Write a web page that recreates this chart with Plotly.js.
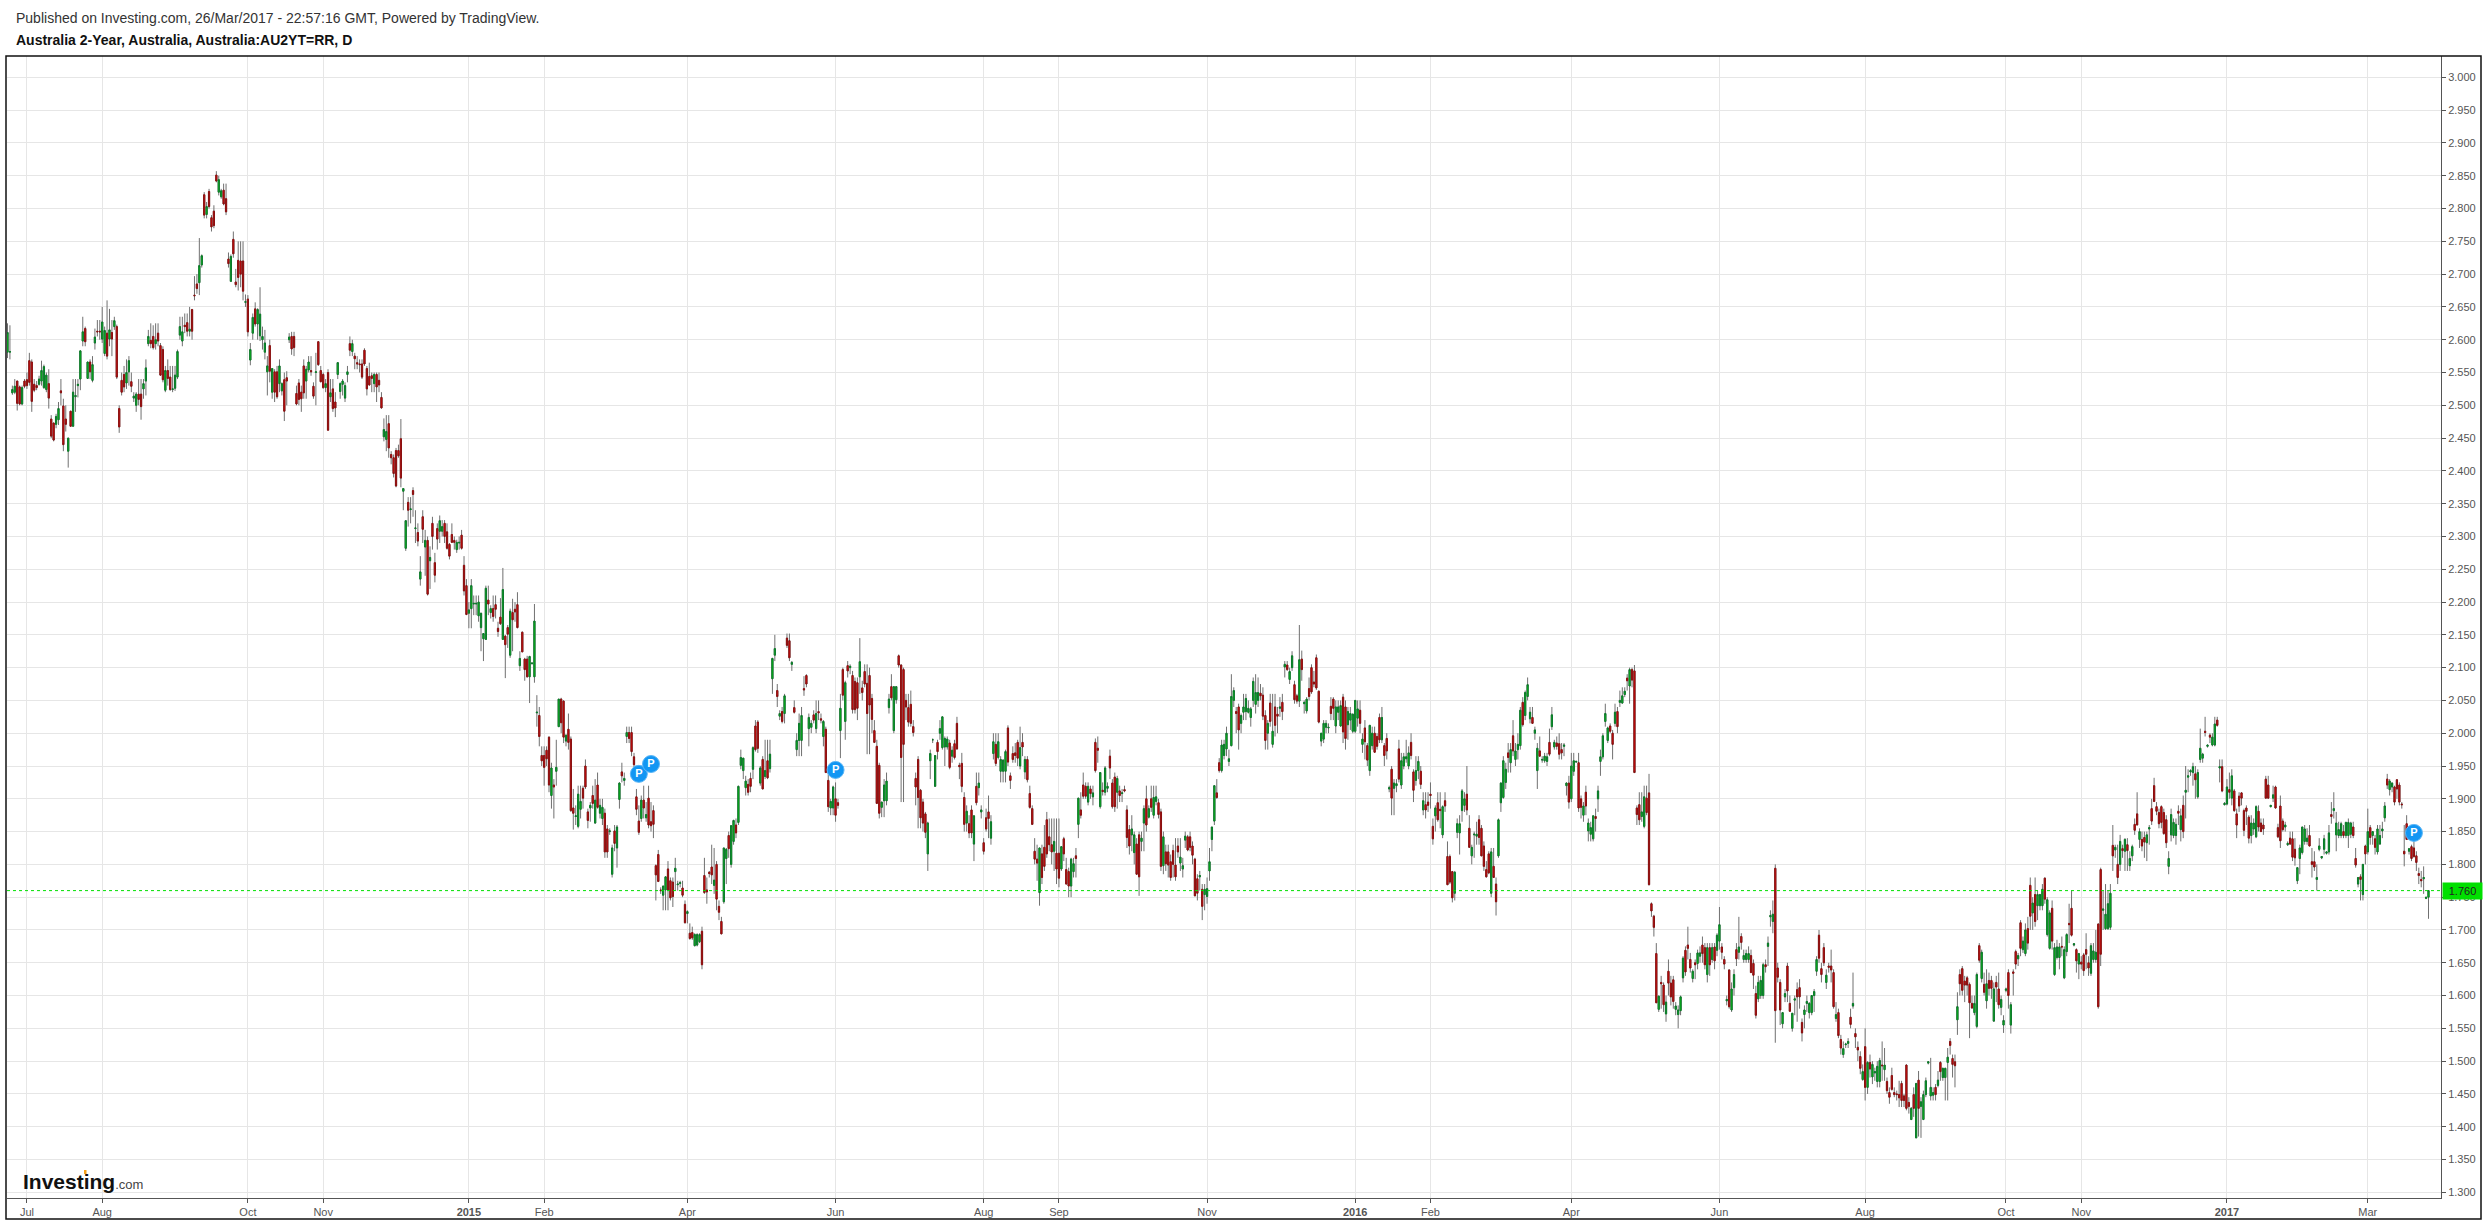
<!DOCTYPE html>
<html><head><meta charset="utf-8">
<script src="https://cdn.plot.ly/plotly-3.0.1.min.js"></script>
<style>html,body{margin:0;padding:0;background:#fff}</style></head><body><div id="c" style="width:2487px;height:1222px"></div>
<script>
// each row: [open, high, low, close]
const lead14=[[2.581,2.625,2.572,2.611],[2.581,2.622,2.57,2.582],[2.519,2.53,2.516,2.524],[2.52,2.54,2.517,2.529],[2.537,2.537,2.492,2.503],[2.528,2.53,2.5,2.502],[2.502,2.53,2.5,2.527],[2.537,2.54,2.526,2.529]];
const jul14=[[2.539,2.55,2.525,2.53],[2.568,2.58,2.53,2.535],[2.566,2.57,2.49,2.506],[2.532,2.54,2.52,2.523],[2.53,2.537,2.523,2.527],[2.532,2.545,2.53,2.54],[2.537,2.568,2.53,2.553],[2.527,2.562,2.525,2.559],[2.524,2.55,2.52,2.546],[2.533,2.555,2.495,2.511],[2.479,2.485,2.45,2.453],[2.473,2.473,2.445,2.447],[2.471,2.487,2.465,2.483],[2.478,2.505,2.47,2.495],[2.522,2.54,2.5,2.519],[2.499,2.51,2.43,2.44],[2.479,2.5,2.46,2.471],[2.43,2.45,2.405,2.45],[2.491,2.491,2.468,2.468],[2.468,2.54,2.468,2.52],[2.513,2.54,2.49,2.515],[2.53,2.54,2.512,2.532],[2.54,2.583,2.523,2.583],[2.598,2.635,2.59,2.612],[2.617,2.62,2.59,2.597],[2.541,2.566,2.541,2.566],[2.566,2.57,2.54,2.551],[2.538,2.575,2.535,2.562],[2.595,2.617,2.585,2.604],[2.613,2.63,2.605,2.612],[2.613,2.63,2.6,2.612]];
const augSep14=[[2.601,2.65,2.595,2.627],[2.579,2.62,2.575,2.614],[2.61,2.66,2.57,2.575],[2.601,2.647,2.59,2.615],[2.611,2.63,2.575,2.601],[2.62,2.635,2.615,2.629],[2.62,2.623,2.54,2.543],[2.495,2.5,2.458,2.467],[2.538,2.55,2.515,2.52],[2.547,2.56,2.52,2.528],[2.534,2.57,2.525,2.55],[2.551,2.575,2.53,2.568],[2.536,2.55,2.52,2.529],[2.511,2.52,2.505,2.514],[2.5,2.52,2.49,2.517],[2.517,2.54,2.5,2.509],[2.517,2.54,2.478,2.498],[2.525,2.54,2.51,2.533],[2.537,2.57,2.515,2.557],[2.594,2.615,2.59,2.605],[2.599,2.625,2.587,2.594],[2.605,2.622,2.585,2.588],[2.594,2.625,2.585,2.6],[2.61,2.625,2.59,2.598],[2.591,2.595,2.545,2.546],[2.585,2.59,2.535,2.539],[2.523,2.56,2.52,2.553],[2.553,2.57,2.53,2.541],[2.543,2.56,2.522,2.524],[2.524,2.56,2.52,2.525],[2.526,2.56,2.522,2.546],
[2.543,2.585,2.54,2.582],[2.607,2.635,2.6,2.62],[2.598,2.635,2.59,2.612],[2.622,2.64,2.61,2.62],[2.626,2.64,2.605,2.613],[2.613,2.65,2.605,2.616],[2.646,2.647,2.6,2.613],[2.668,2.697,2.66,2.667],[2.685,2.7,2.67,2.678],[2.687,2.755,2.668,2.713],[2.714,2.73,2.71,2.728],[2.821,2.825,2.785,2.79],[2.791,2.81,2.785,2.803],[2.826,2.83,2.8,2.803],[2.786,2.79,2.765,2.772],[2.796,2.805,2.77,2.774],[2.851,2.857,2.84,2.842],[2.825,2.85,2.82,2.844],[2.818,2.83,2.815,2.827],[2.828,2.838,2.805,2.807],[2.815,2.838,2.79,2.795],[2.723,2.733,2.71,2.716],[2.689,2.73,2.69,2.727],[2.753,2.765,2.725,2.731],[2.688,2.708,2.68,2.684],[2.721,2.75,2.675,2.695],[2.72,2.75,2.68,2.7],[2.72,2.75,2.66,2.674],[2.657,2.669,2.65,2.658]];
const oct14=[[2.662,2.668,2.605,2.612],[2.569,2.595,2.561,2.585],[2.61,2.64,2.6,2.634],[2.647,2.657,2.62,2.624],[2.624,2.648,2.6,2.646],[2.606,2.68,2.598,2.639],[2.6,2.62,2.585,2.605],[2.581,2.615,2.57,2.595],[2.551,2.575,2.515,2.56],[2.591,2.6,2.535,2.552],[2.52,2.556,2.51,2.556],[2.551,2.555,2.505,2.52],[2.551,2.56,2.51,2.513],[2.533,2.57,2.52,2.56],[2.522,2.535,2.515,2.533],[2.539,2.55,2.476,2.491],[2.542,2.552,2.5,2.537],[2.6,2.61,2.595,2.604],[2.605,2.612,2.577,2.586],[2.605,2.612,2.575,2.588],[2.518,2.53,2.5,2.502],[2.534,2.54,2.5,2.509],[2.52,2.53,2.49,2.51],[2.56,2.57,2.51,2.519],[2.537,2.56,2.51,2.555],[2.554,2.575,2.55,2.566],[2.553,2.575,2.545,2.551],[2.529,2.535,2.51,2.514],[2.55,2.58,2.5,2.551],[2.597,2.597,2.56,2.562],[2.553,2.56,2.535,2.536]];
const novDec14=[[2.547,2.55,2.525,2.527],[2.527,2.54,2.52,2.533],[2.55,2.555,2.462,2.462],[2.513,2.54,2.505,2.519],[2.525,2.54,2.49,2.495],[2.505,2.52,2.482,2.496],[2.547,2.566,2.54,2.565],[2.521,2.535,2.51,2.533],[2.532,2.54,2.515,2.537],[2.511,2.535,2.505,2.53],[2.547,2.56,2.535,2.551],[2.594,2.605,2.575,2.584],[2.582,2.6,2.575,2.594],[2.575,2.58,2.555,2.571],[2.565,2.575,2.555,2.563],[2.563,2.57,2.55,2.562],[2.563,2.57,2.54,2.543],[2.584,2.587,2.56,2.563],[2.556,2.56,2.515,2.525],[2.544,2.565,2.53,2.531],[2.545,2.55,2.52,2.541],[2.533,2.55,2.52,2.547],[2.547,2.55,2.505,2.528],[2.538,2.55,2.52,2.531],[2.512,2.52,2.495,2.496],[2.452,2.48,2.445,2.463],[2.448,2.485,2.43,2.46],[2.472,2.485,2.42,2.435],[2.425,2.43,2.41,2.42],[2.42,2.425,2.39,2.396],
[2.431,2.435,2.375,2.377],[2.431,2.44,2.42,2.423],[2.449,2.479,2.375,2.389],[2.369,2.372,2.34,2.373],[2.282,2.325,2.278,2.324],[2.352,2.36,2.315,2.34],[2.341,2.36,2.32,2.342],[2.37,2.375,2.33,2.364],[2.312,2.34,2.29,2.313],[2.306,2.32,2.285,2.293],[2.235,2.27,2.225,2.246],[2.33,2.34,2.29,2.311],[2.284,2.31,2.24,2.294],[2.294,2.3,2.21,2.212],[2.263,2.285,2.22,2.268],[2.32,2.33,2.28,2.3],[2.26,2.275,2.23,2.241],[2.312,2.32,2.28,2.296],[2.308,2.332,2.29,2.324],[2.308,2.325,2.3,2.315],[2.32,2.325,2.29,2.3],[2.307,2.32,2.28,2.282],[2.288,2.29,2.265,2.27],[2.303,2.32,2.29,2.291],[2.294,2.3,2.28,2.291],[2.28,2.295,2.275,2.291],[2.29,2.3,2.28,2.291],[2.302,2.31,2.28,2.282],[2.256,2.27,2.21,2.217],[2.225,2.235,2.18,2.181]];
const jan15=[[2.183,2.2,2.16,2.188],[2.19,2.235,2.16,2.225],[2.197,2.21,2.18,2.198],[2.197,2.21,2.18,2.198],[2.179,2.21,2.17,2.2],[2.161,2.183,2.125,2.183],[2.144,2.15,2.11,2.152],[2.143,2.225,2.143,2.221],[2.203,2.225,2.18,2.197],[2.184,2.195,2.175,2.19],[2.19,2.21,2.17,2.178],[2.196,2.21,2.175,2.189],[2.16,2.17,2.147,2.155],[2.177,2.206,2.165,2.167],[2.143,2.252,2.143,2.219],[2.148,2.15,2.084,2.135],[2.161,2.165,2.13,2.151],[2.119,2.19,2.115,2.186],[2.184,2.205,2.125,2.173],[2.189,2.2,2.17,2.185],[2.196,2.215,2.16,2.161],[2.103,2.125,2.095,2.114],[2.154,2.155,2.124,2.124],[2.113,2.115,2.08,2.097],[2.113,2.118,2.085,2.086],[2.086,2.118,2.046,2.117],[2.106,2.107,2.105,2.107],[2.086,2.197,2.077,2.171],[2.031,2.058,2.01,2.032],[2.027,2.04,1.98,1.995],[1.966,1.98,1.95,1.958]];
const febMar15=[[1.966,1.98,1.92,1.948],[1.974,1.98,1.95,1.961],[1.994,1.995,1.91,1.921],[1.905,1.955,1.885,1.947],[1.921,1.93,1.87,1.918],[1.942,1.99,1.92,1.948],[2.01,2.052,2.01,2.052],[2.052,2.054,2,2.016],[2.049,2.05,1.985,1.994],[1.988,1.998,1.98,1.997],[2.006,2.03,1.975,1.986],[1.991,1.995,1.88,1.882],[1.886,1.915,1.853,1.878],[1.873,1.89,1.86,1.874],[1.858,1.92,1.855,1.907],[1.884,1.92,1.87,1.896],[1.916,1.92,1.885,1.901],[1.95,1.96,1.915,1.918],[1.88,1.885,1.855,1.867],[1.886,1.895,1.865,1.89],[1.905,1.92,1.885,1.893],[1.863,1.93,1.862,1.898],[1.921,1.94,1.885,1.887],[1.878,1.9,1.87,1.89],[1.87,1.9,1.86,1.887],[1.878,1.885,1.81,1.819],[1.854,1.86,1.81,1.819],[1.85,1.855,1.845,1.851],
[1.785,1.83,1.78,1.825],[1.851,1.86,1.82,1.832],[1.825,1.86,1.795,1.857],[1.899,1.925,1.885,1.924],[1.941,1.955,1.925,1.935],[1.928,1.94,1.92,1.931],[1.995,2.01,1.985,2.001],[2.001,2.01,1.985,1.992],[2.001,2.01,1.965,1.972],[1.964,1.97,1.945,1.952],[1.903,1.915,1.875,1.884],[1.866,1.89,1.845,1.849],[1.87,1.905,1.865,1.898],[1.898,1.92,1.87,1.886],[1.871,1.895,1.865,1.876],[1.901,1.92,1.855,1.86],[1.865,1.895,1.85,1.859],[1.882,1.89,1.84,1.861],[1.798,1.8,1.745,1.784],[1.815,1.822,1.773,1.774],[1.761,1.765,1.755,1.76],[1.753,1.767,1.73,1.767],[1.761,1.78,1.73,1.781],[1.793,1.805,1.73,1.761],[1.775,1.78,1.745,1.749],[1.773,1.78,1.735,1.751],[1.789,1.81,1.76,1.794],[1.769,1.775,1.76,1.77],[1.771,1.775,1.765,1.772],[1.764,1.775,1.75,1.753],[1.739,1.745,1.71,1.711]];
const aprMay15=[[1.725,1.73,1.71,1.728],[1.695,1.71,1.685,1.687],[1.696,1.705,1.685,1.688],[1.676,1.695,1.675,1.693],[1.677,1.695,1.675,1.693],[1.682,1.695,1.68,1.693],[1.698,1.705,1.64,1.647],[1.783,1.81,1.755,1.757],[1.761,1.78,1.74,1.758],[1.788,1.79,1.78,1.786],[1.796,1.83,1.77,1.784],[1.768,1.825,1.755,1.776],[1.8,1.805,1.73,1.747],[1.736,1.745,1.715,1.727],[1.713,1.72,1.694,1.694],[1.743,1.825,1.74,1.825],[1.809,1.825,1.77,1.823],[1.844,1.85,1.81,1.824],[1.8,1.86,1.795,1.859],[1.835,1.868,1.83,1.867],[1.86,1.87,1.84,1.848],[1.864,1.92,1.86,1.919],[1.951,1.975,1.945,1.963],[1.943,1.96,1.93,1.962],[1.917,1.935,1.905,1.927],[1.922,1.93,1.905,1.91],[1.931,1.94,1.91,1.919],[1.945,1.98,1.93,1.978],[2.011,2.02,1.972,1.975],[2.017,2.02,1.97,1.977],
[1.924,1.95,1.92,1.947],[1.96,1.965,1.915,1.915],[1.934,1.99,1.93,1.943],[1.958,1.99,1.93,1.932],[1.946,1.99,1.94,1.968],[2.083,2.115,2.06,2.114],[2.119,2.15,2.11,2.129],[2.065,2.075,2.04,2.056],[2.026,2.035,2.02,2.03],[2.033,2.04,2.015,2.018],[2.03,2.06,2.015,2.057],[2.145,2.152,2.13,2.134],[2.141,2.152,2.11,2.115],[2.105,2.11,2.095,2.108],[2.039,2.05,2.03,2.032],[1.975,2,1.965,1.989],[1.989,2.03,1.965,2.015],[1.989,2.04,1.965,2.027],[2.068,2.087,2.057,2.066],[2.088,2.09,2.07,2.075],[2.007,2.03,1.98,2.024],[2.009,2.02,2,2.015],[2.028,2.035,2.015,2.02],[2.007,2.05,2,2.03],[2.033,2.05,2.02,2.031],[2.022,2.03,2.015,2.02],[1.995,2.02,1.98,2.018],[2.006,2.01,1.94,1.94],[1.928,1.94,1.88,1.888],[1.886,1.9,1.875,1.896],[1.886,1.92,1.875,1.918]];
const junJul15=[[1.9,1.925,1.865,1.875],[1.894,1.9,1.885,1.89],[2.004,2.06,1.962,2.038],[2.097,2.1,2.05,2.058],[2.018,2.08,1.99,2.077],[2.103,2.11,2.085,2.095],[2.1,2.105,2.09,2.102],[2.088,2.095,2.03,2.036],[2.079,2.085,2.03,2.036],[2.077,2.085,2.02,2.038],[2.086,2.145,2.06,2.109],[2.069,2.08,2.05,2.062],[2.094,2.105,2.07,2.075],[2.076,2.105,1.968,2.03],[2.088,2.1,1.968,2.043],[2.053,2.06,2,2.021],[2.004,2.02,1.985,1.986],[1.98,1.99,1.892,1.893],[1.951,1.955,1.87,1.878],[1.887,1.895,1.872,1.895],[1.897,1.93,1.872,1.921],[1.897,1.94,1.89,1.927],[2.039,2.06,2.03,2.052],[2.071,2.09,2.05,2.054],[2.004,2.071,2,2.071],[2.051,2.072,2.045,2.071],[2.118,2.12,2.1,2.104],[2.104,2.105,1.895,1.963],[2.097,2.1,1.895,1.983],[2.05,2.06,2.02,2.04],
[2.039,2.06,2.01,2.017],[2.044,2.065,2.01,2.015],[2.01,2.02,1.995,2.001],[1.931,1.94,1.89,1.918],[1.96,1.965,1.855,1.902],[1.913,1.915,1.855,1.871],[1.895,1.9,1.85,1.863],[1.877,1.88,1.84,1.849],[1.816,1.865,1.79,1.863],[1.958,1.975,1.93,1.969],[1.99,1.992,1.985,1.99],[1.919,1.966,1.919,1.966],[1.986,1.99,1.96,1.972],[2,2.02,1.99,2.007],[1.978,2.025,1.975,2.025],[1.979,1.995,1.95,1.992],[1.979,1.995,1.975,1.991],[1.985,1.99,1.945,1.948],[1.965,1.98,1.955,1.974],[1.984,1.99,1.96,1.963],[2.015,2.025,1.975,1.976],[1.951,1.955,1.93,1.949],[1.954,1.97,1.91,1.919],[1.902,1.91,1.85,1.861],[1.863,1.89,1.85,1.881],[1.862,1.875,1.84,1.848],[1.883,1.89,1.84,1.848],[1.831,1.875,1.805,1.874],[1.919,1.94,1.89,1.894],[1.917,1.94,1.905,1.924],[1.88,1.89,1.87,1.883]];
const aug15=[[1.833,1.84,1.815,1.82],[1.871,1.885,1.85,1.854],[1.88,1.905,1.84,1.87],[1.84,1.875,1.83,1.865],[1.969,2,1.96,1.987],[1.983,2,1.95,1.954],[1.963,2,1.96,1.987],[1.942,1.965,1.925,1.96],[1.942,1.96,1.925,1.959],[1.942,1.975,1.925,1.972],[2.008,2.012,1.95,1.956],[1.935,1.94,1.915,1.928],[1.969,1.98,1.955,1.96],[1.97,1.985,1.955,1.966],[1.986,1.99,1.95,1.962],[1.95,2.01,1.945,1.978],[1.986,2,1.965,1.979],[1.941,1.965,1.93,1.96],[1.96,1.965,1.925,1.929],[1.908,1.92,1.885,1.887],[1.885,1.89,1.86,1.861],[1.82,1.84,1.8,1.808],[1.808,1.83,1.775,1.802],[1.757,1.825,1.737,1.825],[1.816,1.83,1.77,1.78],[1.826,1.86,1.79,1.797],[1.868,1.88,1.81,1.816],[1.842,1.87,1.82,1.83],[1.83,1.87,1.8,1.819],[1.82,1.87,1.79,1.835],[1.817,1.87,1.77,1.793]];
const sepOct15=[[1.817,1.87,1.765,1.779],[1.793,1.828,1.79,1.827],[1.839,1.842,1.805,1.816],[1.792,1.81,1.77,1.77],[1.789,1.795,1.75,1.767],[1.767,1.81,1.75,1.808],[1.789,1.81,1.78,1.801],[1.813,1.825,1.78,1.809],[1.861,1.901,1.84,1.901],[1.883,1.91,1.87,1.875],[1.921,1.94,1.9,1.904],[1.919,1.925,1.9,1.904],[1.895,1.925,1.89,1.919],[1.915,1.92,1.9,1.908],[1.903,1.92,1.89,1.909],[1.986,1.992,1.94,1.943],[1.977,1.995,1.955,1.974],[1.888,1.94,1.885,1.94],[1.913,1.925,1.905,1.911],[1.91,1.95,1.905,1.947],[1.916,1.925,1.91,1.919],[1.965,1.975,1.93,1.947],[1.924,1.93,1.885,1.888],[1.933,1.94,1.88,1.888],[1.91,1.935,1.885,1.931],[1.912,1.92,1.895,1.905],[1.908,1.915,1.895,1.909],[1.914,1.92,1.91,1.912],[1.883,1.89,1.825,1.841],[1.853,1.86,1.815,1.828],
[1.845,1.875,1.82,1.854],[1.818,1.85,1.8,1.845],[1.831,1.84,1.785,1.785],[1.845,1.85,1.752,1.781],[1.835,1.85,1.82,1.84],[1.863,1.89,1.82,1.885],[1.9,1.92,1.85,1.86],[1.872,1.89,1.87,1.885],[1.9,1.92,1.88,1.887],[1.875,1.92,1.87,1.902],[1.896,1.92,1.89,1.903],[1.894,1.9,1.87,1.876],[1.88,1.885,1.79,1.797],[1.798,1.85,1.785,1.842],[1.819,1.83,1.79,1.801],[1.819,1.83,1.78,1.799],[1.804,1.815,1.775,1.78],[1.821,1.83,1.78,1.8],[1.799,1.84,1.775,1.781],[1.828,1.84,1.81,1.819],[1.802,1.84,1.79,1.811],[1.793,1.81,1.78,1.798],[1.837,1.85,1.825,1.843],[1.842,1.845,1.82,1.822],[1.842,1.85,1.82,1.826],[1.828,1.835,1.8,1.814],[1.808,1.81,1.752,1.752],[1.778,1.785,1.745,1.756],[1.781,1.79,1.76,1.783],[1.762,1.77,1.715,1.736],[1.754,1.77,1.73,1.762]];
const novDec15=[[1.751,1.78,1.74,1.763],[1.79,1.825,1.775,1.804],[1.838,1.857,1.82,1.857],[1.866,1.92,1.86,1.92],[1.909,1.93,1.9,1.902],[1.955,1.962,1.94,1.943],[1.943,1.99,1.94,1.982],[1.966,1.99,1.96,1.983],[1.976,2.01,1.965,2],[1.957,1.975,1.95,1.961],[1.981,2.09,1.98,2.056],[2.05,2.07,2.04,2.065],[2.033,2.04,2,2.03],[2.04,2.045,1.975,2.005],[2.015,2.03,2,2.027],[2.032,2.06,2.02,2.04],[2.033,2.06,2.02,2.053],[2.032,2.05,2.03,2.038],[2.024,2.04,2.01,2.037],[2.05,2.085,2.04,2.079],[2.044,2.09,2.03,2.062],[2.05,2.085,2.04,2.062],[2.061,2.075,2.05,2.057],[2.058,2.07,2.02,2.026],[2.027,2.035,1.975,1.989],[2,2.02,1.975,2.015],[2.046,2.06,2.01,2.018],[1.983,2.06,1.978,2.003],[2.04,2.06,1.995,2.012],[2.029,2.04,2,2.026],
[2.038,2.055,2.025,2.04],[2.047,2.06,2.02,2.033],[2.101,2.11,2.085,2.105],[2.104,2.11,2.095,2.097],[2.082,2.1,2.075,2.094],[2.1,2.125,2.095,2.118],[2.074,2.08,2.045,2.051],[2.057,2.06,2.045,2.049],[2.049,2.165,2.04,2.112],[2.113,2.126,2.08,2.097],[2.045,2.05,2.03,2.047],[2.034,2.055,2.03,2.052],[2.068,2.085,2.05,2.056],[2.1,2.105,2.06,2.063],[2.078,2.095,2.07,2.075],[2.115,2.12,2.066,2.069],[2.064,2.065,2.015,2.017],[1.988,2,1.98,2],[1.991,2.02,1.985,2.015],[2.009,2.02,2,2.015],[2.008,2.015,2,2.009],[2.041,2.055,2.02,2.03],[2.052,2.055,2.02,2.038],[2.011,2.05,2,2.04],[2.032,2.05,2.02,2.04],[2.011,2.05,2.01,2.042],[2.055,2.06,1.985,2.002],[2.04,2.05,1.975,1.992],[2.013,2.04,1.99,2.033],[2.02,2.04,2.005,2.03],[2.003,2.03,2,2.029]];
const jan16=[[2.003,2.05,2,2.05],[2.023,2.05,2.01,2.037],[2.035,2.05,2,2.015],[1.983,2,1.97,1.991],[2.008,2.02,1.96,1.987],[1.981,1.985,1.95,1.959],[1.943,2,1.935,2.012],[1.981,2.01,1.975,2],[2,2.01,1.97,1.971],[1.995,2,1.975,1.98],[2.024,2.03,1.985,1.99],[1.99,2.04,1.985,2.024],[1.981,1.985,1.95,1.966],[1.992,2,1.96,1.973],[1.915,1.92,1.91,1.917],[1.945,1.95,1.875,1.901],[1.916,1.93,1.875,1.924],[1.92,1.93,1.91,1.923],[1.976,1.99,1.925,1.93],[1.921,1.97,1.915,1.958],[1.95,1.97,1.945,1.964],[1.961,1.99,1.955,1.964],[1.95,1.98,1.945,1.97],[1.986,2,1.96,1.966],[1.941,1.945,1.895,1.913],[1.928,1.965,1.92,1.943],[1.943,1.965,1.93,1.957],[1.942,1.95,1.915,1.922],[1.883,1.91,1.875,1.897],[1.891,1.91,1.87,1.883],[1.895,1.91,1.88,1.89]];
const febMar16=[[1.907,1.925,1.885,1.905],[1.858,1.87,1.83,1.839],[1.874,1.89,1.85,1.886],[1.894,1.91,1.865,1.868],[1.884,1.91,1.855,1.882],[1.845,1.89,1.84,1.888],[1.897,1.91,1.88,1.889],[1.812,1.835,1.769,1.769],[1.812,1.815,1.77,1.773],[1.789,1.79,1.742,1.749],[1.756,1.79,1.745,1.788],[1.849,1.87,1.84,1.862],[1.848,1.875,1.815,1.862],[1.882,1.915,1.865,1.912],[1.89,1.91,1.88,1.9],[1.907,1.95,1.875,1.883],[1.855,1.875,1.825,1.826],[1.813,1.83,1.8,1.826],[1.845,1.85,1.81,1.846],[1.843,1.865,1.83,1.846],[1.868,1.875,1.83,1.841],[1.855,1.86,1.813,1.813],[1.828,1.835,1.79,1.797],[1.792,1.805,1.78,1.781],[1.816,1.82,1.785,1.787],[1.756,1.825,1.75,1.819],[1.797,1.825,1.78,1.78],[1.77,1.78,1.722,1.743],[1.813,1.87,1.81,1.868],
[1.894,1.925,1.88,1.924],[1.902,1.965,1.9,1.958],[1.925,1.955,1.915,1.945],[1.97,1.985,1.94,1.963],[1.955,1.985,1.94,1.975],[1.996,2.02,1.965,1.973],[1.96,1.985,1.95,1.973],[1.975,2,1.96,1.983],[1.981,2.04,1.975,2.035],[2.047,2.055,2.01,2.013],[2.027,2.065,2.02,2.062],[2.056,2.085,2.05,2.074],[2.022,2.04,2.015,2.032],[2.024,2.04,2.015,2.015],[2,2.01,1.99,2.005],[1.943,1.985,1.915,1.977],[1.973,1.995,1.965,1.965],[1.959,1.965,1.955,1.96],[1.958,1.97,1.955,1.965],[1.957,1.97,1.95,1.964],[1.986,2.007,1.965,1.968],[2.01,2.04,2.005,2.028],[1.979,1.99,1.975,1.986],[1.985,1.995,1.975,1.98],[1.984,2,1.96,1.968],[1.975,1.985,1.96,1.97],[1.98,1.985,1.965,1.982],[1.92,1.925,1.905,1.924],[1.924,1.935,1.885,1.895]];
const aprMay16=[[1.9,1.97,1.895,1.95],[1.942,1.97,1.935,1.958],[1.956,1.958,1.955,1.957],[1.955,1.97,1.88,1.886],[1.9,1.905,1.87,1.887],[1.875,1.895,1.865,1.889],[1.91,1.92,1.875,1.889],[1.851,1.87,1.835,1.863],[1.846,1.865,1.835,1.856],[1.839,1.875,1.835,1.874],[1.873,1.885,1.85,1.87],[1.9,1.92,1.88,1.912],[1.957,1.975,1.935,1.964],[1.964,2,1.96,1.996],[2.018,2.045,2.01,2.03],[1.989,2.01,1.985,2.008],[2.011,2.015,2,2.003],[2,2.005,1.96,1.983],[2.015,2.045,2.01,2.032],[2.033,2.04,2,2.01],[2.047,2.065,2.04,2.05],[2.046,2.07,2.045,2.057],[2.059,2.07,2.055,2.064],[2.084,2.09,2.065,2.08],[2.072,2.1,2.045,2.097],[2.097,2.1,2.07,2.081],[2.095,2.104,1.94,1.94],[1.886,1.89,1.86,1.876],[1.891,1.91,1.86,1.868],[1.873,1.91,1.865,1.88],[1.858,1.92,1.855,1.903],[1.901,1.92,1.875,1.879],[1.909,1.938,1.768,1.769],[1.74,1.742,1.72,1.729],[1.721,1.723,1.69,1.704],[1.664,1.68,1.589,1.589],[1.579,1.6,1.575,1.599],[1.62,1.63,1.58,1.618],[1.616,1.62,1.575,1.586],[1.572,1.6,1.56,1.59],[1.637,1.655,1.6,1.619],[1.619,1.63,1.585,1.598],[1.624,1.63,1.58,1.591],[1.579,1.59,1.57,1.584],[1.571,1.585,1.55,1.578],[1.577,1.6,1.57,1.598],[1.627,1.66,1.62,1.657],[1.669,1.675,1.63,1.636],[1.677,1.705,1.655,1.672],[1.655,1.665,1.635,1.642],[1.626,1.64,1.62,1.637],[1.65,1.655,1.625,1.647],[1.649,1.67,1.64,1.665],[1.66,1.675,1.65,1.665],[1.677,1.69,1.65,1.664],[1.673,1.68,1.64,1.647],[1.632,1.68,1.62,1.673],[1.673,1.68,1.63,1.647],[1.655,1.68,1.65,1.673],[1.674,1.68,1.64,1.653],[1.669,1.695,1.66,1.692]];
const junJul16=[[1.683,1.735,1.67,1.708],[1.674,1.68,1.655,1.666],[1.655,1.66,1.64,1.648],[1.592,1.6,1.585,1.594],[1.639,1.64,1.58,1.583],[1.578,1.62,1.575,1.61],[1.612,1.64,1.6,1.632],[1.67,1.68,1.645,1.656],[1.666,1.72,1.655,1.674],[1.69,1.695,1.67,1.681],[1.655,1.67,1.65,1.661],[1.655,1.67,1.65,1.664],[1.655,1.675,1.65,1.664],[1.661,1.67,1.635,1.635],[1.649,1.655,1.61,1.631],[1.603,1.615,1.565,1.57],[1.595,1.63,1.59,1.62],[1.6,1.63,1.595,1.623],[1.6,1.65,1.595,1.647],[1.647,1.655,1.635,1.644],[1.675,1.69,1.645,1.68],[1.72,1.73,1.705,1.722],[1.713,1.745,1.695,1.724],[1.794,1.8,1.528,1.577],[1.642,1.65,1.62,1.628],[1.62,1.625,1.555,1.578],[1.557,1.574,1.55,1.574],[1.598,1.61,1.59,1.603],[1.645,1.65,1.59,1.607],[1.588,1.6,1.575,1.576],[1.55,1.573,1.545,1.573],[1.593,1.6,1.57,1.595],[1.609,1.62,1.56,1.598],[1.612,1.625,1.58,1.598],[1.559,1.565,1.53,1.543],[1.571,1.585,1.55,1.578],[1.588,1.6,1.575,1.591],[1.574,1.59,1.565,1.588],[1.574,1.6,1.57,1.6],[1.6,1.61,1.575,1.606],[1.637,1.66,1.63,1.655],[1.692,1.7,1.65,1.657],[1.641,1.65,1.62,1.632],[1.673,1.68,1.645,1.65],[1.62,1.64,1.61,1.631],[1.645,1.65,1.635,1.643],[1.645,1.67,1.62,1.639],[1.635,1.64,1.58,1.583],[1.565,1.59,1.56,1.571],[1.574,1.58,1.535,1.539],[1.533,1.54,1.51,1.52],[1.51,1.53,1.505,1.519],[1.525,1.528,1.52,1.526],[1.527,1.535,1.52,1.53],[1.567,1.58,1.55,1.556],[1.584,1.635,1.58,1.588],[1.542,1.55,1.52,1.537],[1.521,1.53,1.5,1.517],[1.507,1.515,1.48,1.489],[1.472,1.495,1.47,1.484]];
const augSep16=[[1.522,1.55,1.44,1.46],[1.46,1.5,1.45,1.498],[1.498,1.51,1.475,1.488],[1.476,1.5,1.465,1.495],[1.482,1.49,1.47,1.484],[1.469,1.5,1.46,1.492],[1.469,1.505,1.46,1.501],[1.494,1.53,1.47,1.493],[1.487,1.52,1.47,1.494],[1.469,1.475,1.45,1.455],[1.452,1.46,1.435,1.445],[1.478,1.49,1.455,1.457],[1.452,1.46,1.445,1.449],[1.45,1.455,1.44,1.449],[1.449,1.47,1.43,1.444],[1.466,1.47,1.43,1.44],[1.447,1.45,1.43,1.44],[1.494,1.495,1.425,1.428],[1.437,1.445,1.42,1.431],[1.411,1.43,1.41,1.428],[1.449,1.46,1.415,1.428],[1.383,1.466,1.383,1.466],[1.471,1.485,1.385,1.428],[1.431,1.445,1.383,1.438],[1.411,1.455,1.41,1.449],[1.449,1.475,1.445,1.47],[1.497,1.5,1.495,1.499],[1.447,1.505,1.44,1.46],[1.448,1.46,1.44,1.452],[1.46,1.465,1.44,1.449],[1.463,1.485,1.46,1.471],[1.498,1.5,1.47,1.484],[1.475,1.49,1.47,1.489],[1.475,1.49,1.44,1.489],[1.498,1.52,1.44,1.506],[1.53,1.535,1.51,1.524],[1.504,1.51,1.475,1.495],[1.499,1.51,1.46,1.493],[1.563,1.605,1.54,1.583],[1.632,1.64,1.6,1.618],[1.641,1.645,1.6,1.608],[1.622,1.63,1.59,1.616],[1.627,1.63,1.6,1.616],[1.617,1.62,1.535,1.589],[1.588,1.6,1.58,1.581],[1.574,1.6,1.57,1.588],[1.553,1.635,1.55,1.632],[1.676,1.68,1.65,1.654],[1.626,1.67,1.62,1.666],[1.617,1.635,1.6,1.605],[1.592,1.64,1.58,1.618],[1.623,1.635,1.6,1.611],[1.623,1.63,1.595,1.611],[1.561,1.62,1.56,1.61],[1.62,1.63,1.59,1.613],[1.61,1.635,1.58,1.586],[1.582,1.6,1.57,1.594],[1.555,1.57,1.543,1.562]];
const oct16=[[1.608,1.612,1.605,1.61],[1.635,1.64,1.58,1.6],[1.555,1.59,1.542,1.586],[1.636,1.64,1.6,1.634],[1.667,1.67,1.64,1.648],[1.656,1.665,1.645,1.661],[1.711,1.715,1.66,1.672],[1.67,1.69,1.665,1.683],[1.664,1.71,1.66,1.7],[1.702,1.72,1.67,1.68],[1.768,1.78,1.7,1.721],[1.726,1.75,1.7,1.741],[1.754,1.78,1.705,1.713],[1.737,1.76,1.715,1.754],[1.737,1.755,1.73,1.754],[1.737,1.77,1.73,1.762],[1.779,1.78,1.74,1.747],[1.693,1.75,1.69,1.746],[1.672,1.73,1.67,1.726],[1.733,1.745,1.67,1.683],[1.632,1.68,1.63,1.673],[1.658,1.685,1.655,1.674],[1.658,1.68,1.64,1.674],[1.675,1.69,1.66,1.674],[1.627,1.675,1.625,1.67],[1.667,1.695,1.66,1.693],[1.71,1.74,1.68,1.708],[1.733,1.76,1.69,1.692],[1.677,1.68,1.675,1.679],[1.67,1.672,1.635,1.653],[1.648,1.665,1.625,1.664]];
const novDec16=[[1.651,1.66,1.64,1.648],[1.662,1.665,1.63,1.638],[1.67,1.695,1.64,1.663],[1.65,1.66,1.63,1.642],[1.634,1.68,1.63,1.676],[1.655,1.68,1.65,1.668],[1.655,1.7,1.65,1.666],[1.709,1.71,1.58,1.583],[1.792,1.795,1.645,1.663],[1.73,1.76,1.7,1.732],[1.702,1.77,1.7,1.724],[1.702,1.76,1.7,1.74],[1.704,1.77,1.7,1.756],[1.829,1.86,1.79,1.813],[1.822,1.83,1.81,1.826],[1.8,1.83,1.77,1.78],[1.8,1.845,1.79,1.835],[1.824,1.83,1.81,1.821],[1.82,1.84,1.79,1.838],[1.83,1.84,1.79,1.821],[1.798,1.82,1.79,1.809],[1.813,1.83,1.805,1.827],[1.861,1.87,1.845,1.852],[1.877,1.91,1.86,1.86],[1.838,1.855,1.825,1.85],[1.838,1.85,1.82,1.828],[1.841,1.85,1.81,1.834],[1.833,1.85,1.805,1.845],[1.854,1.86,1.83,1.856],[1.885,1.9,1.86,1.866],[1.92,1.932,1.895,1.896],[1.888,1.895,1.875,1.881],[1.879,1.885,1.855,1.862],[1.888,1.89,1.855,1.864],[1.879,1.885,1.845,1.847],[1.868,1.875,1.825,1.833],[1.797,1.82,1.785,1.809],[1.845,1.885,1.835,1.876],[1.844,1.87,1.84,1.864],[1.844,1.87,1.83,1.861],[1.881,1.89,1.86,1.878],[1.853,1.885,1.835,1.874],[1.89,1.905,1.84,1.85],[1.91,1.95,1.87,1.913],[1.933,1.945,1.91,1.935],[1.941,1.945,1.935,1.943],[1.94,1.955,1.92,1.949],[1.938,1.95,1.9,1.929],[1.903,1.945,1.9,1.94],[1.96,2.007,1.955,1.977],[1.962,1.97,1.955,1.968],[2.003,2.025,1.995,2.001],[1.98,1.982,1.978,1.982],[1.997,2,1.985,1.994],[1.982,2,1.98,1.994],[1.982,2.025,1.98,2.014],[2.02,2.025,2.01,2.012],[1.947,1.96,1.925,1.949],[1.949,1.96,1.91,1.912],[1.891,1.895,1.89,1.893]];
const janFeb17=[[1.892,1.93,1.89,1.918],[1.914,1.94,1.9,1.91],[1.901,1.945,1.89,1.935],[1.912,1.915,1.88,1.882],[1.877,1.885,1.84,1.86],[1.904,1.91,1.88,1.889],[1.909,1.91,1.89,1.901],[1.882,1.885,1.843,1.852],[1.886,1.89,1.86,1.881],[1.872,1.875,1.832,1.84],[1.844,1.875,1.832,1.863],[1.854,1.87,1.845,1.863],[1.842,1.89,1.84,1.888],[1.881,1.89,1.85,1.857],[1.863,1.87,1.85,1.85],[1.86,1.87,1.845,1.854],[1.93,1.935,1.9,1.901],[1.921,1.935,1.9,1.901],[1.888,1.89,1.887,1.89],[1.901,1.92,1.895,1.906],[1.918,1.92,1.885,1.886],[1.856,1.862,1.84,1.842],[1.889,1.905,1.825,1.836],[1.866,1.87,1.85,1.853],[1.857,1.865,1.85,1.86],[1.83,1.835,1.828,1.832],[1.84,1.85,1.83,1.831],[1.839,1.85,1.805,1.811],[1.823,1.84,1.798,1.81],[1.775,1.795,1.77,1.795],[1.809,1.83,1.785,1.825],[1.818,1.857,1.815,1.857],[1.835,1.86,1.83,1.854],[1.835,1.855,1.83,1.84],[1.844,1.86,1.828,1.828],[1.804,1.825,1.78,1.8],[1.804,1.82,1.79,1.796],[1.777,1.8,1.76,1.78],[1.823,1.84,1.82,1.828],[1.81,1.811,1.808,1.812],[1.823,1.845,1.815,1.839],[1.817,1.818,1.815,1.819],[1.819,1.86,1.815,1.848],[1.876,1.895,1.862,1.873],[1.882,1.91,1.87,1.885],[1.845,1.88,1.82,1.863],[1.844,1.865,1.84,1.853],[1.844,1.865,1.84,1.862],[1.85,1.86,1.84,1.844],[1.844,1.865,1.84,1.864],[1.844,1.87,1.825,1.864],[1.846,1.865,1.84,1.863],[1.857,1.865,1.84,1.844],[1.809,1.825,1.795,1.799],[1.77,1.78,1.765,1.78],[1.781,1.785,1.745,1.777],[1.754,1.8,1.745,1.8],[1.828,1.83,1.8,1.816]];
const mar17=[[1.819,1.885,1.815,1.85],[1.856,1.86,1.83,1.841],[1.844,1.85,1.83,1.85],[1.839,1.845,1.815,1.826],[1.819,1.86,1.815,1.854],[1.831,1.86,1.83,1.844],[1.851,1.865,1.84,1.854],[1.871,1.895,1.865,1.889],[1.93,1.938,1.915,1.921],[1.914,1.93,1.905,1.927],[1.918,1.925,1.91,1.924],[1.918,1.92,1.89,1.895],[1.929,1.93,1.9,1.915],[1.921,1.925,1.89,1.895],[1.892,1.895,1.885,1.891],[1.82,1.86,1.797,1.816],[1.862,1.875,1.838,1.838],[1.82,1.825,1.815,1.824],[1.827,1.83,1.805,1.809],[1.825,1.845,1.81,1.812],[1.813,1.82,1.79,1.803],[1.786,1.795,1.77,1.783],[1.777,1.79,1.765,1.775],[1.778,1.797,1.755,1.78],[1.748,1.75,1.747,1.75],[1.75,1.76,1.717,1.76]];

const segments=[lead14,jul14,augSep14,oct14,novDec14,jan15,febMar15,aprMay15,junJul15,aug15,sepOct15,novDec15,jan16,febMar16,aprMay16,junJul16,augSep16,oct16,novDec16,janFeb17,mar17];
const tickLabels=['Jul','Aug','Oct','Nov','<b>2015</b>','Feb','Apr','Jun','Aug','Sep','Nov','<b>2016</b>','Feb','Apr','Jun','Aug','Oct','Nov','<b>2017</b>','Mar'];
const lastPrice=1.760;
const signalBars=[260,265,341,991];
const signalValues=[1.938,1.953,1.944,1.848];

const bars=segments.flat();
const idx=bars.map((_,i)=>i);
const open=bars.map(b=>b[0]),high=bars.map(b=>b[1]),low=bars.map(b=>b[2]),close=bars.map(b=>b[3]);
const tickIdx=[];let acc=0;segments.slice(0,-1).forEach(s=>{acc+=s.length;tickIdx.push(acc)});

// plot area in page pixels
const W=2487,H=1222,L=7,R=2441,T=56,B=1198;
const first=7.5,last=2428.5,step=(last-first)/(bars.length-1);
const px=x=>(x-L)/(R-L),py=y=>(B-y)/(B-T);
const xr=[(L-first)/step,(R-first)/step];

const wick={type:'candlestick',x:idx,open,high,low,close,width:0.01,whiskerwidth:0,hoverinfo:'skip',showlegend:false,
 increasing:{line:{color:'#707070',width:1},fillcolor:'rgba(0,0,0,0)'},decreasing:{line:{color:'#707070',width:1},fillcolor:'rgba(0,0,0,0)'}};
const body={type:'candlestick',x:idx,open,close,high:bars.map(b=>Math.max(b[0],b[3])),low:bars.map(b=>Math.min(b[0],b[3])),width:1.05,whiskerwidth:0,hoverinfo:'skip',showlegend:false,
 increasing:{line:{color:'#0b7a2c',width:1},fillcolor:'#00e600'},decreasing:{line:{color:'#8a1010',width:1},fillcolor:'#ff0000'}};
const signals={type:'scatter',mode:'markers+text',x:signalBars,y:signalValues,text:signalBars.map(()=>'P'),textposition:'middle center',
 textfont:{family:'Liberation Sans',size:11,color:'#fff',weight:700},marker:{size:17,color:'#1296f3',line:{color:'#5cb6f6',width:1}},hoverinfo:'skip',showlegend:false};

const layout={width:W,height:H,margin:{l:L,r:W-R,t:T,b:H-B,pad:0},paper_bgcolor:'#fff',plot_bgcolor:'#fff',showlegend:false,
 font:{family:'Liberation Sans, Arial, sans-serif',color:'#555'},
 xaxis:{type:'linear',range:xr,tickmode:'array',tickvals:tickIdx,ticktext:tickLabels,showgrid:true,gridcolor:'#e6e6e6',gridwidth:1,zeroline:false,
  showline:true,linecolor:'#555',linewidth:1,ticks:'outside',ticklen:4,tickcolor:'#555',tickfont:{size:11,color:'#555'},rangeslider:{visible:false},fixedrange:true},
 yaxis:{type:'linear',side:'right',range:[1.2913,3.0326],tick0:1.3,dtick:0.05,tickformat:'.3f',showgrid:true,gridcolor:'#e6e6e6',gridwidth:1,zeroline:false,
  showline:true,linecolor:'#555',linewidth:1,ticks:'outside',ticklen:4,tickcolor:'#555',tickfont:{size:11,color:'#555'},fixedrange:true},
 shapes:[
  {type:'line',xref:'paper',x0:0,x1:1,yref:'y',y0:lastPrice,y1:lastPrice,line:{color:'#00e000',width:1,dash:'dot'}},
  {type:'rect',xref:'paper',yref:'paper',x0:px(6),x1:px(2481),y0:py(1219),y1:py(56),line:{color:'#111',width:1.5},fillcolor:'rgba(0,0,0,0)'},
  {type:'rect',xref:'paper',yref:'paper',x0:px(84),x1:px(86.5),y0:py(1174),y1:py(1170),line:{width:0},fillcolor:'#f7a11a'}
 ],
 annotations:[
  {xref:'paper',yref:'paper',x:px(14),y:py(17.5),xanchor:'left',yanchor:'middle',showarrow:false,text:'Published on Investing.com, 26/Mar/2017 - 22:57:16 GMT, Powered by TradingView.',font:{size:14,color:'#333'}},
  {xref:'paper',yref:'paper',x:px(14),y:py(40.5),xanchor:'left',yanchor:'middle',showarrow:false,text:'<b>Australia 2-Year, Australia, Australia:AU2YT=RR, D</b>',font:{size:14,color:'#111'}},
  {xref:'paper',yref:'y',x:px(2442),y:lastPrice,xanchor:'left',yanchor:'middle',showarrow:false,text:'1.760',width:39,height:16,align:'center',bgcolor:'#00e000',borderpad:0,font:{size:11,color:'#222'}},
  {xref:'paper',yref:'paper',x:px(21),y:py(1181),xanchor:'left',yanchor:'middle',showarrow:false,text:'<b>Investing</b><span style="font-size:13px;color:#444">.com</span>',font:{size:21,color:'#111'}}
 ]};
Plotly.newPlot('c',[wick,body,signals],layout,{displayModeBar:false,staticPlot:true});
</script></body></html>
